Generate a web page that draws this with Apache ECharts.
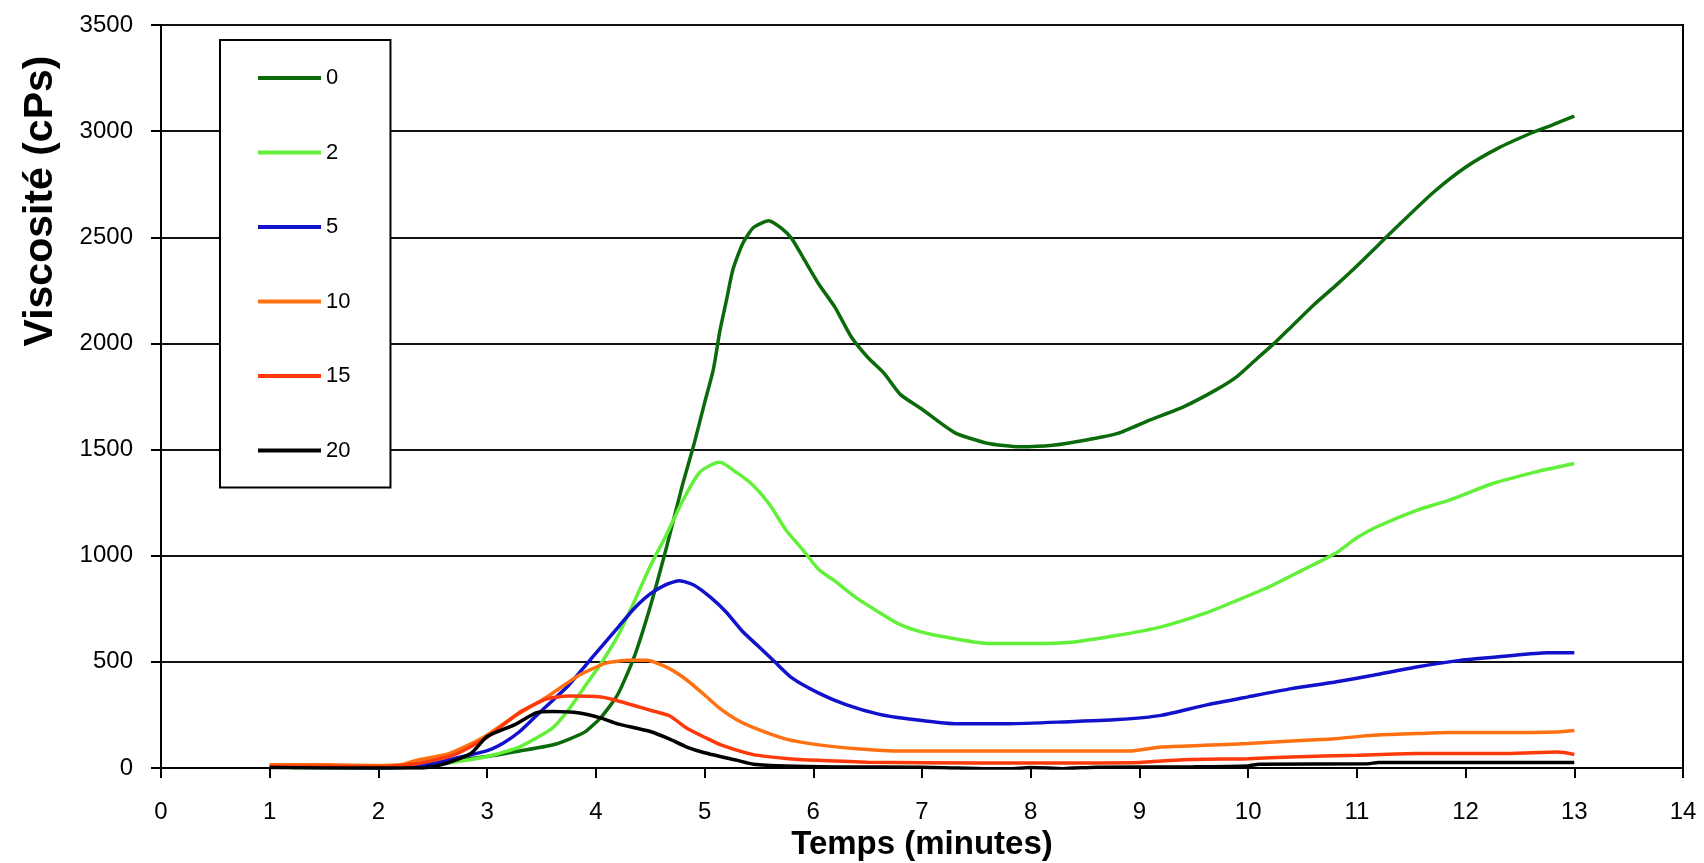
<!DOCTYPE html>
<html>
<head>
<meta charset="utf-8">
<title>Viscosité</title>
<script src="https://cdn.jsdelivr.net/npm/echarts@6/dist/echarts.min.js"></script>
<style>
    html, body {margin: 0; padding: 0; background: #fff;}
    #chart {width: 1704px; height: 863px;}
</style>
</head>
<body>
<div id="chart"></div>
<script>
// legend names
var names = ['0', '2', '5', '10', '15', '20'];
var colors = ['#0b6b0b', '#62f03a', '#1212cc', '#ff7012', '#ff3a0a', '#000000'];

// [temps (min), viscosité (cPs)]
var s0 = [[1,5],[1.5,3],[2,0],[2.3,8],[2.5,20],[2.7,36],[3.0,54],[3.3,80],[3.6,108],[3.75,135],[3.9,170],
    [4.05,240],[4.2,345],[4.35,520],[4.5,760],[4.65,1040],[4.8,1340],[4.9,1520],[5.0,1720],[5.08,1875],
    [5.14,2057],[5.2,2200],[5.26,2347],[5.35,2470],[5.45,2546],[5.59,2578],[5.7,2545],[5.8,2495],[5.9,2410],
    [6.05,2280],[6.2,2170],[6.35,2030],[6.5,1935],[6.65,1860],[6.8,1760],[7.0,1690],[7.3,1580],[7.6,1530],
    [7.9,1513],[8.2,1520],[8.5,1544],[8.8,1576],[9.1,1640],[9.4,1700],[9.7,1780],[9.9,1845],[10.1,1937],
    [10.25,2005],[10.4,2080],[10.6,2180],[10.8,2270],[11.0,2365],[11.2,2465],[11.4,2565],[11.7,2710],
    [12.0,2830],[12.3,2920],[12.6,2990],[12.8,3030],[13,3071]];
var s2 = [[1.2,0],[1.5,2],[2,0],[2.3,5],[2.5,15],[2.7,28],[3.0,54],[3.3,100],[3.6,188],[3.75,275],[3.9,385],
    [4.05,495],[4.2,620],[4.35,780],[4.5,950],[4.65,1100],[4.8,1260],[4.95,1390],[5.05,1425],[5.14,1440],
    [5.3,1390],[5.45,1330],[5.6,1240],[5.75,1120],[5.9,1030],[6.05,935],[6.2,880],[6.4,800],[6.6,735],
    [6.8,675],[7.0,640],[7.2,618],[7.6,587],[8.0,586],[8.4,594],[8.8,625],[9.2,665],[9.6,728],[9.9,790],
    [10.2,855],[10.5,932],[10.8,1010],[11.0,1085],[11.2,1140],[11.55,1214],[11.85,1262],[12.25,1340],
    [12.65,1395],[13,1434]];
var s5 = [[1,5],[1.5,2],[2,0],[2.3,5],[2.5,20],[2.7,45],[3.0,82],[3.15,118],[3.3,172],[3.45,245],[3.6,317],
    [3.75,390],[3.9,480],[4.05,571],[4.2,660],[4.35,750],[4.5,820],[4.65,865],[4.77,882],[4.9,862],
    [5.05,806],[5.2,734],[5.35,643],[5.5,571],[5.65,498],[5.8,426],[6.05,353],[6.3,299],[6.6,254],
    [6.85,233],[7.3,209],[7.8,209],[8.3,217],[8.8,228],[9.2,248],[9.6,295],[10.0,335],[10.4,374],
    [10.8,405],[11.15,437],[11.55,476],[11.95,507],[12.35,526],[12.75,543],[13,543]];
var s10 = [[1,15],[1.5,15],[2,12],[2.2,15],[2.35,36],[2.65,68],[2.95,140],[3.25,243],[3.55,335],[3.85,438],
    [4.1,495],[4.3,507],[4.47,507],[4.65,475],[4.83,417],[5.0,344],[5.14,281],[5.3,226],[5.45,190],
    [5.75,136],[6.05,109],[6.4,91],[6.8,80],[7.5,80],[8.0,80],[8.9,80],[9.2,99],[9.6,107],[10.0,115],
    [10.4,127],[10.8,138],[11.15,154],[11.55,162],[11.85,167],[12.35,167],[12.85,170],[13,177]];
var s15 = [[1,8],[1.5,8],[2,6],[2.2,12],[2.4,25],[2.7,63],[3.0,145],[3.3,263],[3.55,326],[3.75,339],
    [4.05,335],[4.2,317],[4.5,272],[4.68,245],[4.83,190],[5.0,145],[5.15,109],[5.45,63],[5.75,45],
    [6.05,36],[6.5,27],[7.5,24],[8.5,24],[9.0,26],[9.4,39],[10.0,44],[10.4,52],[11.0,60],[11.55,68],
    [12.35,68],[12.85,75],[13,64]];
var s20 = [[1,2],[1.5,0],[2,0],[2.4,0],[2.6,18],[2.85,68],[3.0,148],[3.25,203],[3.45,260],[3.6,266],
    [3.85,259],[4.05,235],[4.2,208],[4.5,172],[4.68,136],[4.83,100],[5.0,72],[5.3,36],[5.45,18],[5.75,9],
    [6.2,5],[7,4],[7.8,-5],[8.0,2],[8.3,-3],[8.6,4],[9.5,6],[10.0,10],[10.1,18],[11.1,20],[11.2,26],[13,26]];

var seriesData = [s0, s2, s5, s10, s15, s20];

var chart = echarts.init(document.getElementById('chart'));

var series = [];
for (var i = 0; i < names.length; i++) {
    series.push({
        name: names[i],
        type: 'line',
        data: seriesData[i],
        showSymbol: false,
        smooth: 0.2,
        lineStyle: {width: 3.5, color: colors[i]},
        itemStyle: {color: colors[i]}
    });
}

var tickFont = '"Liberation Sans Narrow", "Liberation Sans", Arial, sans-serif';

var option = {
    animation: false,
    backgroundColor: '#fff',
    grid: {
        left: 161, top: 25, right: 21, bottom: 95,
        outerBoundsMode: 'none',
        show: true, borderColor: '#000', borderWidth: 2
    },
    legend: {
        orient: 'vertical',
        left: 220, top: 40,
        padding: [27, 40, 26, 38],
        itemWidth: 63, itemHeight: 4,
        itemGap: 52.5,
        itemTextGap: 6,
        icon: 'rect',
        borderColor: '#000', borderWidth: 2,
        backgroundColor: '#fff',
        textStyle: {fontFamily: 'Liberation Sans, Arial, sans-serif', fontSize: 22, lineHeight: 22, color: '#000'},
        data: names
    },
    xAxis: {
        type: 'value',
        min: 0, max: 14, interval: 1,
        name: 'Temps (minutes)',
        nameLocation: 'middle',
        nameGap: 58,
        nameTextStyle: {fontFamily: 'Liberation Sans, Arial, sans-serif', fontWeight: 'bold', fontSize: 33, color: '#000'},
        axisLine: {show: true, lineStyle: {color: '#000', width: 2}},
        axisTick: {show: true, length: 10, lineStyle: {color: '#000', width: 2}},
        axisLabel: {margin: 32, fontFamily: tickFont, fontSize: 24, color: '#000',
            formatter: function (v) { return String(v); }},
        splitLine: {show: false}
    },
    yAxis: {
        type: 'value',
        min: 0, max: 3500, interval: 500,
        axisLine: {show: true, lineStyle: {color: '#000', width: 2}},
        axisTick: {show: true, length: 10, lineStyle: {color: '#000', width: 2}},
        axisLabel: {margin: 28, fontFamily: tickFont, fontSize: 24, color: '#000',
            formatter: function (v) { return String(v); }},
        splitLine: {show: true, lineStyle: {color: '#111', width: 2}}
    },
    graphic: [{
        type: 'text',
        x: 41, y: 201,
        rotation: Math.PI / 2,
        style: {
            text: 'Viscosité (cPs)',
            fontFamily: 'Liberation Sans, Arial, sans-serif',
            fontWeight: 'bold',
            fontSize: 41,
            fill: '#000',
            textAlign: 'center',
            textVerticalAlign: 'middle'
        }
    }],
    series: series
};

chart.setOption(option);
</script>
</body>
</html>
